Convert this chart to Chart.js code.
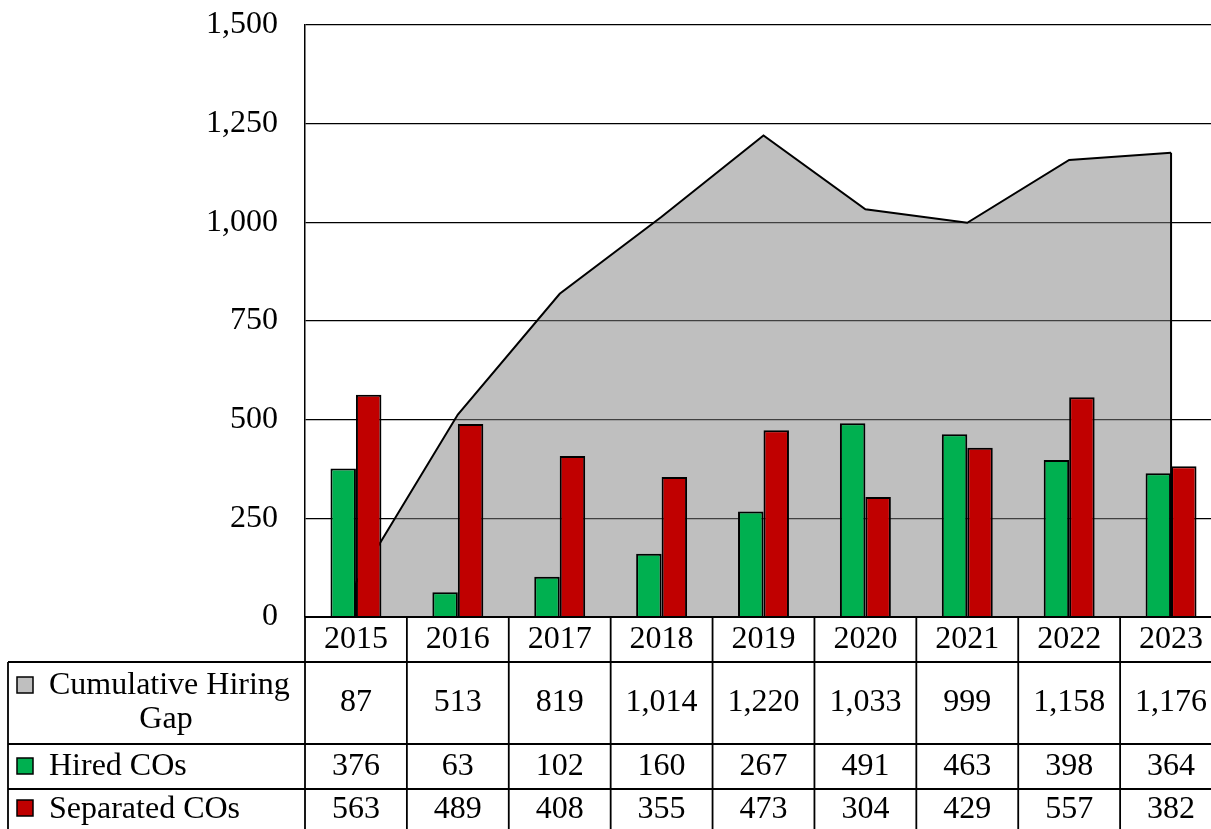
<!DOCTYPE html>
<html>
<head>
<meta charset="utf-8">
<script src="https://cdn.jsdelivr.net/npm/chart.js@4.4.1/dist/chart.umd.min.js"></script>
<style>
    html, body { margin: 0; padding: 0; background: #fff; overflow: hidden; }
    #wrap { width: 1222px; height: 829px; }
</style>
</head>
<body>
<div id="wrap"><canvas id="chart" width="1222" height="829"></canvas></div>
<script>
// Chart data
const years = ['2015', '2016', '2017', '2018', '2019', '2020', '2021', '2022', '2023'];
const hiringGap = [87, 513, 819, 1014, 1220, 1033, 999, 1158, 1176];
const hiredCOs = [376, 63, 102, 160, 267, 491, 463, 398, 364];
const separatedCOs = [563, 489, 408, 355, 473, 304, 429, 557, 382];
const yTicks = [0, 250, 500, 750, 1000, 1250, 1500];
const seriesNames = ['Cumulative Hiring Gap', 'Hired COs', 'Separated COs'];

const FONT = '"Liberation Serif", "Times New Roman", serif';
const FONT_SIZE = 32;

// Close the area on both ends with vertical edges, like Excel does
const areaEdges = {
    id: 'areaEdges',
    afterDatasetDraw(chart, args) {
        if (args.index !== 0) return;
        const pts = args.meta.data;
        const base = chart.scales.y.getPixelForValue(0);
        const ctx = chart.ctx;
        ctx.save();
        ctx.strokeStyle = '#000';
        ctx.lineWidth = 2;
        [pts[0], pts[pts.length - 1]].forEach(p => {
            ctx.beginPath();
            ctx.moveTo(p.x, p.y);
            ctx.lineTo(p.x, base);
            ctx.stroke();
        });
        ctx.restore();
    }
};

// Data table under the plot, columns taken from the x scale
const dataTable = {
    id: 'dataTable',
    afterDraw(chart) {
        const ctx = chart.ctx;
        const x = chart.scales.x;
        const area = chart.chartArea;
        const half = (x.getPixelForValue(1) - x.getPixelForValue(0)) / 2;
        const tableLeft = 8;
        const rows = [area.bottom, 662, 744, 789, 840];
        const bottom = chart.height;

        ctx.save();
        ctx.strokeStyle = '#000';
        ctx.lineWidth = 1.8;

        // horizontal lines
        ctx.beginPath();
        ctx.moveTo(area.left, rows[0]);
        ctx.lineTo(area.right, rows[0]);
        for (let r = 1; r < 4; r++) {
            ctx.moveTo(tableLeft, rows[r]);
            ctx.lineTo(area.right, rows[r]);
        }
        // vertical lines
        ctx.moveTo(tableLeft, rows[1]);
        ctx.lineTo(tableLeft, bottom);
        for (let i = 0; i <= years.length; i++) {
            const px = (i < years.length ? x.getPixelForValue(i) - half : x.getPixelForValue(i - 1) + half);
            ctx.moveTo(px, rows[0]);
            ctx.lineTo(px, bottom);
        }
        ctx.stroke();

        ctx.fillStyle = '#000';
        ctx.font = FONT_SIZE + 'px ' + FONT;
        ctx.textAlign = 'center';
        ctx.textBaseline = 'middle';

        const series = [hiringGap, hiredCOs, separatedCOs];
        const rowCenters = [703, 767, 810];
        years.forEach((yr, i) => {
            const cx = x.getPixelForValue(i);
            ctx.fillText(yr, cx, 640);
            series.forEach((vals, s) => {
                ctx.fillText(vals[i].toLocaleString('en-US'), cx, rowCenters[s]);
            });
        });

        // legend keys + labels
        const keyColors = ['#BFBFBF', '#00B050', '#C00000'];
        const keyCenters = [685, 766, 808];
        ctx.lineWidth = 1.5;
        keyColors.forEach((c, s) => {
            ctx.fillStyle = c;
            ctx.fillRect(17, keyCenters[s] - 8, 16, 16);
            ctx.strokeRect(17, keyCenters[s] - 8, 16, 16);
        });
        ctx.fillStyle = '#000';
        ctx.textAlign = 'left';
        ctx.fillText('Cumulative Hiring', 49, 686);
        ctx.textAlign = 'center';
        ctx.fillText('Gap', 166, 720);
        ctx.textAlign = 'left';
        ctx.fillText(seriesNames[1], 49, 767);
        ctx.fillText(seriesNames[2], 49, 810);
        ctx.restore();
    }
};

const ctx = document.getElementById('chart').getContext('2d');
const chart = new Chart(ctx, {
    type: 'bar',
    data: {
        labels: years,
        datasets: [
            {
                type: 'line',
                label: seriesNames[0],
                data: hiringGap,
                order: 2,
                fill: 'origin',
                backgroundColor: 'rgba(128, 128, 128, 0.5)',
                borderColor: '#000',
                borderWidth: 2,
                pointRadius: 0,
                tension: 0,
                borderJoinStyle: 'miter'
            },
            {
                label: seriesNames[1],
                data: hiredCOs,
                order: 1,
                backgroundColor: '#00B050',
                borderColor: '#000',
                borderWidth: 2,
                categoryPercentage: 0.5,
                barPercentage: 1.0
            },
            {
                label: seriesNames[2],
                data: separatedCOs,
                order: 1,
                backgroundColor: '#C00000',
                borderColor: '#000',
                borderWidth: 2,
                categoryPercentage: 0.5,
                barPercentage: 1.0
            }
        ]
    },
    options: {
        responsive: false,
        animation: false,
        layout: {
            padding: { left: 0, top: 25, right: 0, bottom: 212 }
        },
        plugins: {
            legend: { display: false },
            tooltip: { enabled: false }
        },
        scales: {
            x: {
                display: false,
                offset: true,
                grid: { display: false }
            },
            y: {
                min: 0,
                max: 1500,
                afterBuildTicks: scale => {
                    scale.ticks = yTicks.map(v => ({ value: v }));
                },
                afterFit: scale => {
                    // fixed axis width; drop the label overhang padding
                    scale.width = 305;
                    scale.paddingTop = 0;
                    scale.paddingBottom = 0;
                },
                grid: {
                    color: '#000',
                    lineWidth: 1.3,
                    drawTicks: false
                },
                border: {
                    display: true,
                    color: '#000',
                    width: 1.5
                },
                ticks: {
                    padding: 27,
                    color: '#000',
                    font: { family: FONT, size: FONT_SIZE },
                    callback: value => value.toLocaleString('en-US')
                }
            }
        }
    },
    plugins: [areaEdges, dataTable]
});
</script>
</body>
</html>
